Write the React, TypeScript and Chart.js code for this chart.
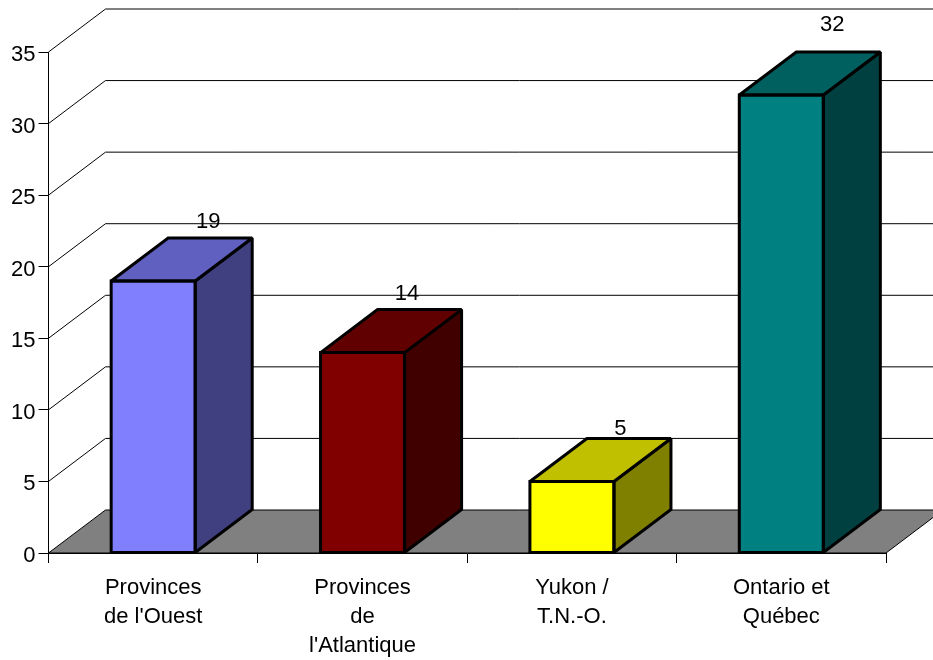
import React, { useEffect, useRef } from "react";
import { Chart, registerables } from "chart.js";

Chart.register(...registerables);

const categories = [["Provinces", "de l'Ouest"], ["Provinces", "de", "l'Atlantique"], ["Yukon /", "T.N.-O."], ["Ontario et", "Québec"]];
const values = [19, 14, 5, 32];
const frontColors = ["#8080FF", "#800000", "#FFFF00", "#008080"];
const topColors = ["#6060C0", "#600000", "#C0C000", "#006060"];
const sideColors = ["#404080", "#400000", "#808000", "#004040"];
const labelShiftX = [55, 44.5, 48.5, 51];
const labelShiftY = [59.5, 58.5, 52.5, 70.5];

const DX = 57;
const DY = 43;
const FONT = '"Liberation Sans", Arial, sans-serif';

const poly = (ctx: CanvasRenderingContext2D, pts: number[][], fill: string | null, stroke: string, lw: number) => {
  ctx.beginPath();
  pts.forEach((p, i) => (i ? ctx.lineTo(p[0], p[1]) : ctx.moveTo(p[0], p[1])));
  if (fill) {
    ctx.closePath();
    ctx.fillStyle = fill;
    ctx.fill();
  }
  ctx.strokeStyle = stroke;
  ctx.lineWidth = lw;
  ctx.lineJoin = "miter";
  ctx.miterLimit = 2;
  ctx.stroke();
};

const walls = {
  id: "walls",
  beforeDatasetsDraw(chart: any) {
    const { ctx, chartArea: a, scales } = chart;
    const y = scales.y;
    ctx.save();
    y.ticks.forEach((t: any) => {
      if (t.value === 0) return;
      const py = y.getPixelForValue(t.value);
      poly(ctx, [[a.left, py], [a.left + DX, py - DY], [chart.width + 10, py - DY]], null, "#000", 1);
    });
    const y0 = y.getPixelForValue(0);
    poly(ctx, [[a.left, y0], [a.left + DX, y0 - DY], [a.right + DX, y0 - DY], [a.right, y0]], "#808080", "#000", 1);
    ctx.restore();
  },
};

const bars3d = {
  id: "bars3d",
  afterDatasetsDraw(chart: any) {
    const { ctx } = chart;
    const meta = chart.getDatasetMeta(0);
    ctx.save();
    meta.data.forEach((bar: any, i: number) => {
      const { x, y, base, width } = bar.getProps(["x", "y", "base", "width"], true);
      const l = x - width / 2;
      const r = x + width / 2;
      poly(ctx, [[r, y], [r + DX, y - DY], [r + DX, base - DY], [r, base]], sideColors[i], "#000", 3);
      poly(ctx, [[l, y], [l + DX, y - DY], [r + DX, y - DY], [r, y]], topColors[i], "#000", 3);
      ctx.beginPath();
      ctx.rect(l, y, width, base - y);
      ctx.strokeStyle = "#000";
      ctx.lineWidth = 3;
      ctx.stroke();
      ctx.fillStyle = "#000";
      ctx.font = `22px ${FONT}`;
      ctx.textAlign = "center";
      ctx.textBaseline = "middle";
      ctx.fillText(String(values[i]), x + labelShiftX[i], y - labelShiftY[i]);
    });
    ctx.restore();
  },
};

export default function App() {
  const ref = useRef<HTMLCanvasElement>(null);
  useEffect(() => {
    document.body.style.margin = "0";
    document.body.style.background = "#fff";
    const chart = new Chart(ref.current!, {
      type: "bar",
      data: {
        labels: categories as any,
        datasets: [{ data: values, backgroundColor: frontColors, borderWidth: 0, barPercentage: 0.4014, categoryPercentage: 1 }],
      },
      options: {
        animation: false,
        responsive: false,
        devicePixelRatio: 1,
        layout: { autoPadding: false, padding: { top: 52, right: 47, left: 0.5, bottom: 0 } },
        plugins: { legend: { display: false }, tooltip: { enabled: false }, title: { display: false } },
        scales: {
          x: {
            afterFit: (s: any) => { s.height = 107; },
            grid: { display: true, drawOnChartArea: false, tickLength: 10, color: "#000", offset: true },
            border: { display: true, color: "#000" },
            ticks: { color: "#000", maxRotation: 0, minRotation: 0, autoSkip: false, padding: 11, font: { family: FONT, size: 22, lineHeight: 1.3 } },
          },
          y: {
            min: 0,
            max: 35,
            afterFit: (s: any) => { s.width = 48; },
            grid: { display: true, drawOnChartArea: false, tickLength: 10, color: "#000" },
            border: { display: true, color: "#000" },
            ticks: { stepSize: 5, color: "#000", padding: 3, labelOffset: 3, font: { family: FONT, size: 22 } },
          },
        },
      },
      plugins: [walls, bars3d],
    } as any);
    return () => chart.destroy();
  }, []);
  return <canvas ref={ref} width={933} height={660} style={{ display: "block", width: 933, height: 660 }} />;
}
